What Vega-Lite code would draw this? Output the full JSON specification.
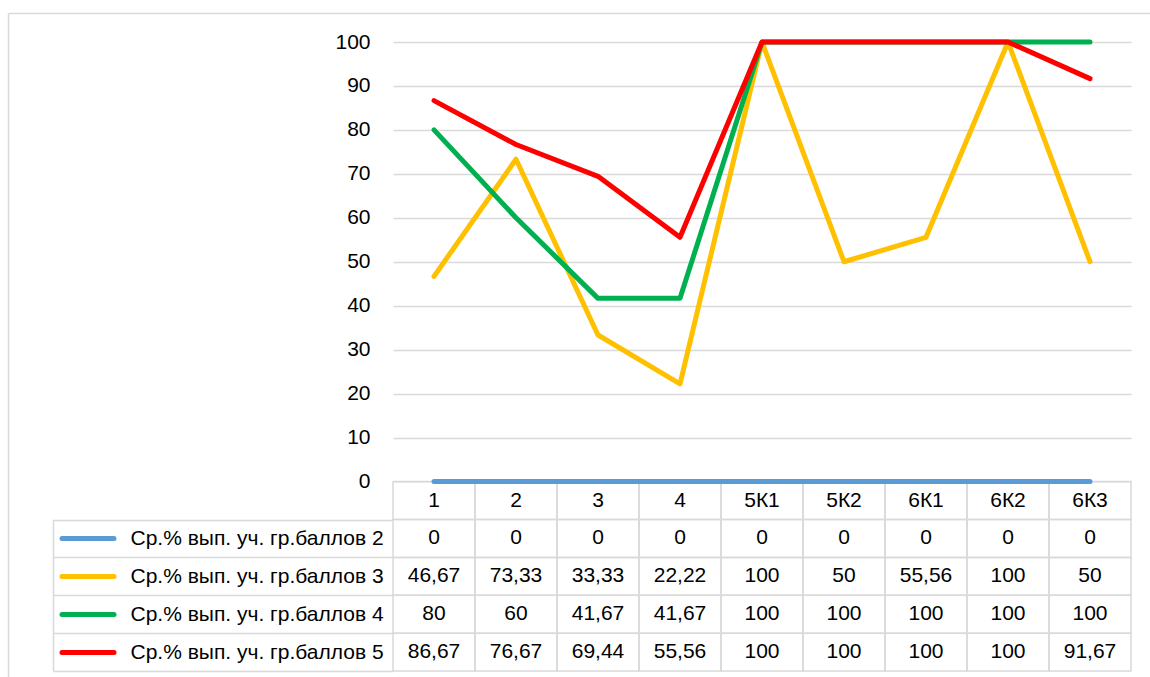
{
  "$schema": "https://vega.github.io/schema/vega-lite/v6.json",
  "width": 738,
  "height": 629,
  "autosize": {"type": "none"},
  "padding": {"left": 393, "top": 42, "right": 19, "bottom": 6},
  "config": {
    "font": "Liberation Sans",
    "view": {"stroke": null},
    "locale": {"number": {"decimal": ",", "thousands": " ", "grouping": [3], "currency": ["", ""]}},
    "axis": {"labelFont": "Liberation Sans", "labelFontSize": 21, "labelColor": "#000000", "title": null}
  },
  "datasets": {
    "d": [
      {"cat": "1", "series": "Ср.% вып. уч. гр.баллов 2", "value": 0},
      {"cat": "2", "series": "Ср.% вып. уч. гр.баллов 2", "value": 0},
      {"cat": "3", "series": "Ср.% вып. уч. гр.баллов 2", "value": 0},
      {"cat": "4", "series": "Ср.% вып. уч. гр.баллов 2", "value": 0},
      {"cat": "5К1", "series": "Ср.% вып. уч. гр.баллов 2", "value": 0},
      {"cat": "5К2", "series": "Ср.% вып. уч. гр.баллов 2", "value": 0},
      {"cat": "6К1", "series": "Ср.% вып. уч. гр.баллов 2", "value": 0},
      {"cat": "6К2", "series": "Ср.% вып. уч. гр.баллов 2", "value": 0},
      {"cat": "6К3", "series": "Ср.% вып. уч. гр.баллов 2", "value": 0},
      {"cat": "1", "series": "Ср.% вып. уч. гр.баллов 3", "value": 46.67},
      {"cat": "2", "series": "Ср.% вып. уч. гр.баллов 3", "value": 73.33},
      {"cat": "3", "series": "Ср.% вып. уч. гр.баллов 3", "value": 33.33},
      {"cat": "4", "series": "Ср.% вып. уч. гр.баллов 3", "value": 22.22},
      {"cat": "5К1", "series": "Ср.% вып. уч. гр.баллов 3", "value": 100},
      {"cat": "5К2", "series": "Ср.% вып. уч. гр.баллов 3", "value": 50},
      {"cat": "6К1", "series": "Ср.% вып. уч. гр.баллов 3", "value": 55.56},
      {"cat": "6К2", "series": "Ср.% вып. уч. гр.баллов 3", "value": 100},
      {"cat": "6К3", "series": "Ср.% вып. уч. гр.баллов 3", "value": 50},
      {"cat": "1", "series": "Ср.% вып. уч. гр.баллов 4", "value": 80},
      {"cat": "2", "series": "Ср.% вып. уч. гр.баллов 4", "value": 60},
      {"cat": "3", "series": "Ср.% вып. уч. гр.баллов 4", "value": 41.67},
      {"cat": "4", "series": "Ср.% вып. уч. гр.баллов 4", "value": 41.67},
      {"cat": "5К1", "series": "Ср.% вып. уч. гр.баллов 4", "value": 100},
      {"cat": "5К2", "series": "Ср.% вып. уч. гр.баллов 4", "value": 100},
      {"cat": "6К1", "series": "Ср.% вып. уч. гр.баллов 4", "value": 100},
      {"cat": "6К2", "series": "Ср.% вып. уч. гр.баллов 4", "value": 100},
      {"cat": "6К3", "series": "Ср.% вып. уч. гр.баллов 4", "value": 100},
      {"cat": "1", "series": "Ср.% вып. уч. гр.баллов 5", "value": 86.67},
      {"cat": "2", "series": "Ср.% вып. уч. гр.баллов 5", "value": 76.67},
      {"cat": "3", "series": "Ср.% вып. уч. гр.баллов 5", "value": 69.44},
      {"cat": "4", "series": "Ср.% вып. уч. гр.баллов 5", "value": 55.56},
      {"cat": "5К1", "series": "Ср.% вып. уч. гр.баллов 5", "value": 100},
      {"cat": "5К2", "series": "Ср.% вып. уч. гр.баллов 5", "value": 100},
      {"cat": "6К1", "series": "Ср.% вып. уч. гр.баллов 5", "value": 100},
      {"cat": "6К2", "series": "Ср.% вып. уч. гр.баллов 5", "value": 100},
      {"cat": "6К3", "series": "Ср.% вып. уч. гр.баллов 5", "value": 91.67}
    ]
  },
  "data": {"name": "d"},
  "resolve": {"scale": {"y": "independent", "x": "independent"}, "axis": {"y": "independent", "x": "independent"}},
  "layer": [
    {
      "transform": [{"filter": "datum.cat === '1'"}],
      "mark": {"type": "point", "opacity": 0},
      "encoding": {
        "x": {"field": "cat", "type": "nominal", "sort": null, "scale": {"type": "band", "range": [-385, 757], "paddingInner": 0, "paddingOuter": 0},
          "axis": {"orient": "top", "offset": 29, "domain": true, "domainColor": "#d9d9d9", "domainWidth": 1.5, "ticks": false, "labels": false, "grid": false, "title": null}},
        "y": {"field": "series", "type": "nominal", "scale": {"type": "band", "range": [-29, 640], "paddingInner": 0, "paddingOuter": 0},
          "axis": {"orient": "left", "offset": 385, "domain": true, "domainColor": "#d9d9d9", "domainWidth": 1.5, "ticks": false, "labels": false, "grid": false, "title": null}}
      }
    },
    {
      "layer": [
        {
          "mark": {"type": "rect", "filled": false, "stroke": "#d9d9d9", "strokeWidth": 1.5},
          "encoding": {
            "x": {"field": "cat", "type": "nominal", "sort": null, "scale": {"type": "band", "paddingInner": 0, "paddingOuter": 0}, "axis": null},
            "y": {"field": "series", "type": "nominal", "scale": {"type": "band", "domain": ["hdr", "Ср.% вып. уч. гр.баллов 2", "Ср.% вып. уч. гр.баллов 3", "Ср.% вып. уч. гр.баллов 4", "Ср.% вып. уч. гр.баллов 5"], "range": [439.7, 629], "paddingInner": 0, "paddingOuter": 0},
              "axis": {"orient": "left", "values": ["Ср.% вып. уч. гр.баллов 2", "Ср.% вып. уч. гр.баллов 3", "Ср.% вып. уч. гр.баллов 4", "Ср.% вып. уч. гр.баллов 5"], "ticks": true, "tickBand": "extent", "tickSize": 340, "tickColor": "#d9d9d9", "tickWidth": 1.5, "labels": true, "labelAlign": "left", "labelPadding": -77, "labelLimit": 0, "domain": false, "grid": false, "title": null}}
          }
        },
        {
          "mark": {"type": "text", "fontSize": 21, "color": "#000000", "font": "Liberation Sans"},
          "encoding": {
            "x": {"field": "cat", "type": "nominal", "sort": null, "scale": {"type": "band", "paddingInner": 0, "paddingOuter": 0}, "axis": null},
            "y": {"field": "series", "type": "nominal", "scale": {"type": "band", "domain": ["hdr", "Ср.% вып. уч. гр.баллов 2", "Ср.% вып. уч. гр.баллов 3", "Ср.% вып. уч. гр.баллов 4", "Ср.% вып. уч. гр.баллов 5"], "range": [439.7, 629], "paddingInner": 0, "paddingOuter": 0}},
            "text": {"field": "value", "type": "quantitative", "format": ".2~f"}
          }
        },
        {
          "transform": [{"filter": "datum.series === 'Ср.% вып. уч. гр.баллов 2'"}],
          "mark": {"type": "rect", "filled": false, "stroke": "#d9d9d9", "strokeWidth": 1.5},
          "encoding": {
            "x": {"field": "cat", "type": "nominal", "sort": null, "scale": {"type": "band", "paddingInner": 0, "paddingOuter": 0}, "axis": null},
            "y": {"datum": "hdr", "type": "nominal", "scale": {"type": "band", "domain": ["hdr", "Ср.% вып. уч. гр.баллов 2", "Ср.% вып. уч. гр.баллов 3", "Ср.% вып. уч. гр.баллов 4", "Ср.% вып. уч. гр.баллов 5"], "range": [439.7, 629], "paddingInner": 0, "paddingOuter": 0}}
          }
        },
        {
          "transform": [{"filter": "datum.series === 'Ср.% вып. уч. гр.баллов 2'"}],
          "mark": {"type": "text", "fontSize": 21, "color": "#000000", "font": "Liberation Sans"},
          "encoding": {
            "x": {"field": "cat", "type": "nominal", "sort": null, "scale": {"type": "band", "paddingInner": 0, "paddingOuter": 0}, "axis": null},
            "y": {"datum": "hdr", "type": "nominal", "scale": {"type": "band", "domain": ["hdr", "Ср.% вып. уч. гр.баллов 2", "Ср.% вып. уч. гр.баллов 3", "Ср.% вып. уч. гр.баллов 4", "Ср.% вып. уч. гр.баллов 5"], "range": [439.7, 629], "paddingInner": 0, "paddingOuter": 0}},
            "text": {"field": "cat", "type": "nominal"}
          }
        }
      ]
    },
    {
      "mark": {"type": "line", "strokeWidth": 5, "strokeCap": "round", "strokeJoin": "round"},
      "encoding": {
        "x": {"field": "cat", "type": "nominal", "sort": null, "scale": {"type": "band", "paddingInner": 0, "paddingOuter": 0}, "axis": null},
        "y": {"field": "value", "type": "quantitative", "scale": {"domain": [-43.12, 100], "nice": false, "zero": false},
          "axis": {"orient": "left", "values": [0, 10, 20, 30, 40, 50, 60, 70, 80, 90, 100], "grid": true, "gridColor": "#d9d9d9", "gridWidth": 1.5, "domain": false, "ticks": false, "labelPadding": 23, "title": null}},
        "color": {"field": "series", "type": "nominal", "scale": {"domain": ["Ср.% вып. уч. гр.баллов 2", "Ср.% вып. уч. гр.баллов 3", "Ср.% вып. уч. гр.баллов 4", "Ср.% вып. уч. гр.баллов 5"], "range": ["#5B9BD5", "#FFC000", "#00B050", "#FF0000"]}, "legend": null}
      }
    },
    {
      "transform": [{"filter": "datum.cat === '1'"}],
      "mark": {"type": "point", "opacity": 0},
      "encoding": {
        "x": {"field": "cat", "type": "nominal", "sort": null, "scale": {"type": "band", "paddingInner": 0, "paddingOuter": 0}, "axis": null},
        "y": {"field": "series", "type": "nominal", "scale": {"type": "band", "domain": ["hdr", "Ср.% вып. уч. гр.баллов 2", "Ср.% вып. уч. гр.баллов 3", "Ср.% вып. уч. гр.баллов 4", "Ср.% вып. уч. гр.баллов 5"], "range": [439.7, 629], "paddingInner": 0, "paddingOuter": 0},
          "axis": {"orient": "left", "values": ["Ср.% вып. уч. гр.баллов 2", "Ср.% вып. уч. гр.баллов 3", "Ср.% вып. уч. гр.баллов 4", "Ср.% вып. уч. гр.баллов 5"], "offset": 279.5, "ticks": true, "tickSize": 52, "tickWidth": 5, "tickCap": "round",
            "tickColor": {"condition": [{"test": "datum.value === 'Ср.% вып. уч. гр.баллов 2'", "value": "#5B9BD5"}, {"test": "datum.value === 'Ср.% вып. уч. гр.баллов 3'", "value": "#FFC000"}, {"test": "datum.value === 'Ср.% вып. уч. гр.баллов 4'", "value": "#00B050"}], "value": "#FF0000"},
            "labels": false, "domain": false, "grid": false, "title": null}}
      }
    },
    {
      "transform": [{"filter": "datum.cat === '1'"}],
      "mark": {"type": "point", "opacity": 0},
      "encoding": {
        "x": {"field": "cat", "type": "nominal", "sort": null, "scale": {"type": "band", "paddingInner": 0, "paddingOuter": 0}, "axis": null},
        "y": {"field": "series", "type": "nominal", "scale": {"type": "band", "domain": ["Ср.% вып. уч. гр.баллов 2", "Ср.% вып. уч. гр.баллов 3", "Ср.% вып. уч. гр.баллов 4", "Ср.% вып. уч. гр.баллов 5"], "range": [477.3, 629], "paddingInner": 0, "paddingOuter": 0},
          "axis": {"orient": "left", "offset": 340, "domain": true, "domainColor": "#d9d9d9", "domainWidth": 1.5, "ticks": false, "labels": false, "grid": false, "title": null}}
      }
    }
  ]
}
